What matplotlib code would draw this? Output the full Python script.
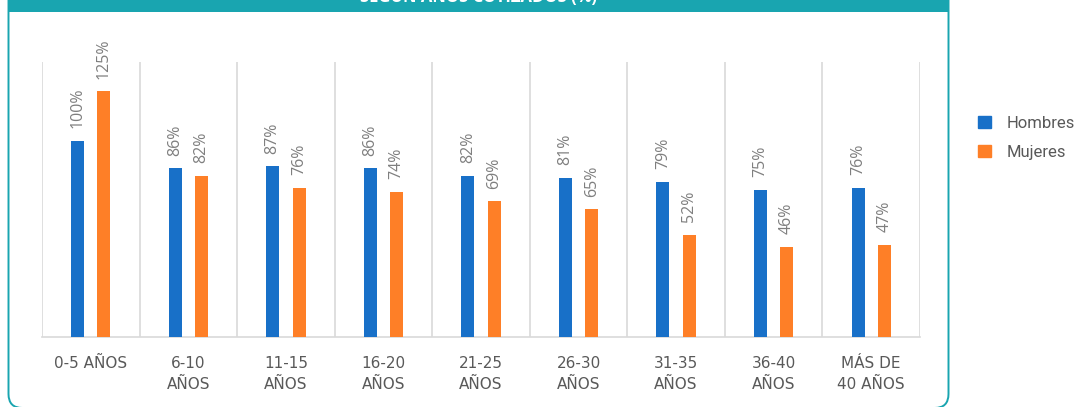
import numpy as np
import matplotlib.pyplot as plt
from matplotlib.patches import Rectangle, FancyBboxPatch, Patch

# data
categories = ['0-5 AÑOS', '6-10\nAÑOS', '11-15\nAÑOS', '16-20\nAÑOS', '21-25\nAÑOS',
              '26-30\nAÑOS', '31-35\nAÑOS', '36-40\nAÑOS', 'MÁS DE\n40 AÑOS']
hombres = [100, 86, 87, 86, 82, 81, 79, 75, 76]
mujeres = [125, 82, 76, 74, 69, 65, 52, 46, 47]
series_names = ['Hombres', 'Mujeres']
title = 'SEGÚN AÑOS COTIZADOS (%)'

blue = '#1870c8'
orange = '#fe7f27'
teal = '#19a5b0'
grey_txt = '#7f7f7f'
grid_col = '#d9d9d9'

fig = plt.figure(figsize=(10.78, 4.07), dpi=100)

# background frame in pixel coordinates
bg = fig.add_axes([0, 0, 1, 1], zorder=0)
bg.set_xlim(0, 1078)
bg.set_ylim(407, 0)
bg.axis('off')
bg.add_patch(FancyBboxPatch((8.5, -30), 940, 438, boxstyle='round,pad=0,rounding_size=14',
                            facecolor='none', edgecolor=teal, lw=1.4))
bg.add_patch(Rectangle((8, 0), 941, 12, facecolor=teal, edgecolor='none'))
bg.text(479, -4, title, color='white', fontsize=12, fontweight='bold', family='Open Sans',
        ha='center', va='center', clip_on=True)

ax = fig.add_axes([42 / 1078, 1 - 337 / 407, (920 - 42) / 1078, (337 - 62) / 407], zorder=1)
ax.patch.set_alpha(0)
x = np.arange(len(categories))
w = 0.133
off = 0.135
b1 = ax.bar(x - off, hombres, w, color=blue, label=series_names[0], zorder=3)
b2 = ax.bar(x + off, mujeres, w, color=orange, label=series_names[1], zorder=3)

for bars, vals in [(b1, hombres), (b2, mujeres)]:
    for r, v in zip(bars, vals):
        ax.annotate(f'{v}%', (r.get_x() + r.get_width() / 2, r.get_height()),
                    xytext=(0, 9), textcoords='offset points', rotation=90,
                    ha='center', va='bottom', fontsize=11.5, color=grey_txt, family='Open Sans')

ax.set_xlim(-0.5, len(categories) - 0.5)
ax.set_ylim(0, 140)
for b in np.arange(len(categories) + 1) - 0.5:
    ax.axvline(b, color=grid_col, lw=1.2, zorder=1)
for s in ['top', 'right', 'left']:
    ax.spines[s].set_visible(False)
ax.spines['bottom'].set_color(grid_col)
ax.spines['bottom'].set_linewidth(1.2)
ax.set_yticks([])
ax.set_xticks(x)
ax.set_xticklabels(categories, fontsize=11, color='#595959', family='DejaVu Sans', linespacing=1.5)
ax.tick_params(axis='x', length=0, pad=14)
for lbl in ax.get_xticklabels():
    lbl.set_verticalalignment('top')

fig.legend(handles=[Patch(color=blue), Patch(color=orange)], labels=series_names,
           loc='upper left', bbox_to_anchor=(963 / 1078, 1 - 101 / 407), frameon=False,
           prop={'family': 'Roboto', 'size': 12},
           labelcolor='#595959', handlelength=0.75, handleheight=0.75, handletextpad=0.95,
           labelspacing=0.85)

plt.savefig('out.png', dpi=100)
